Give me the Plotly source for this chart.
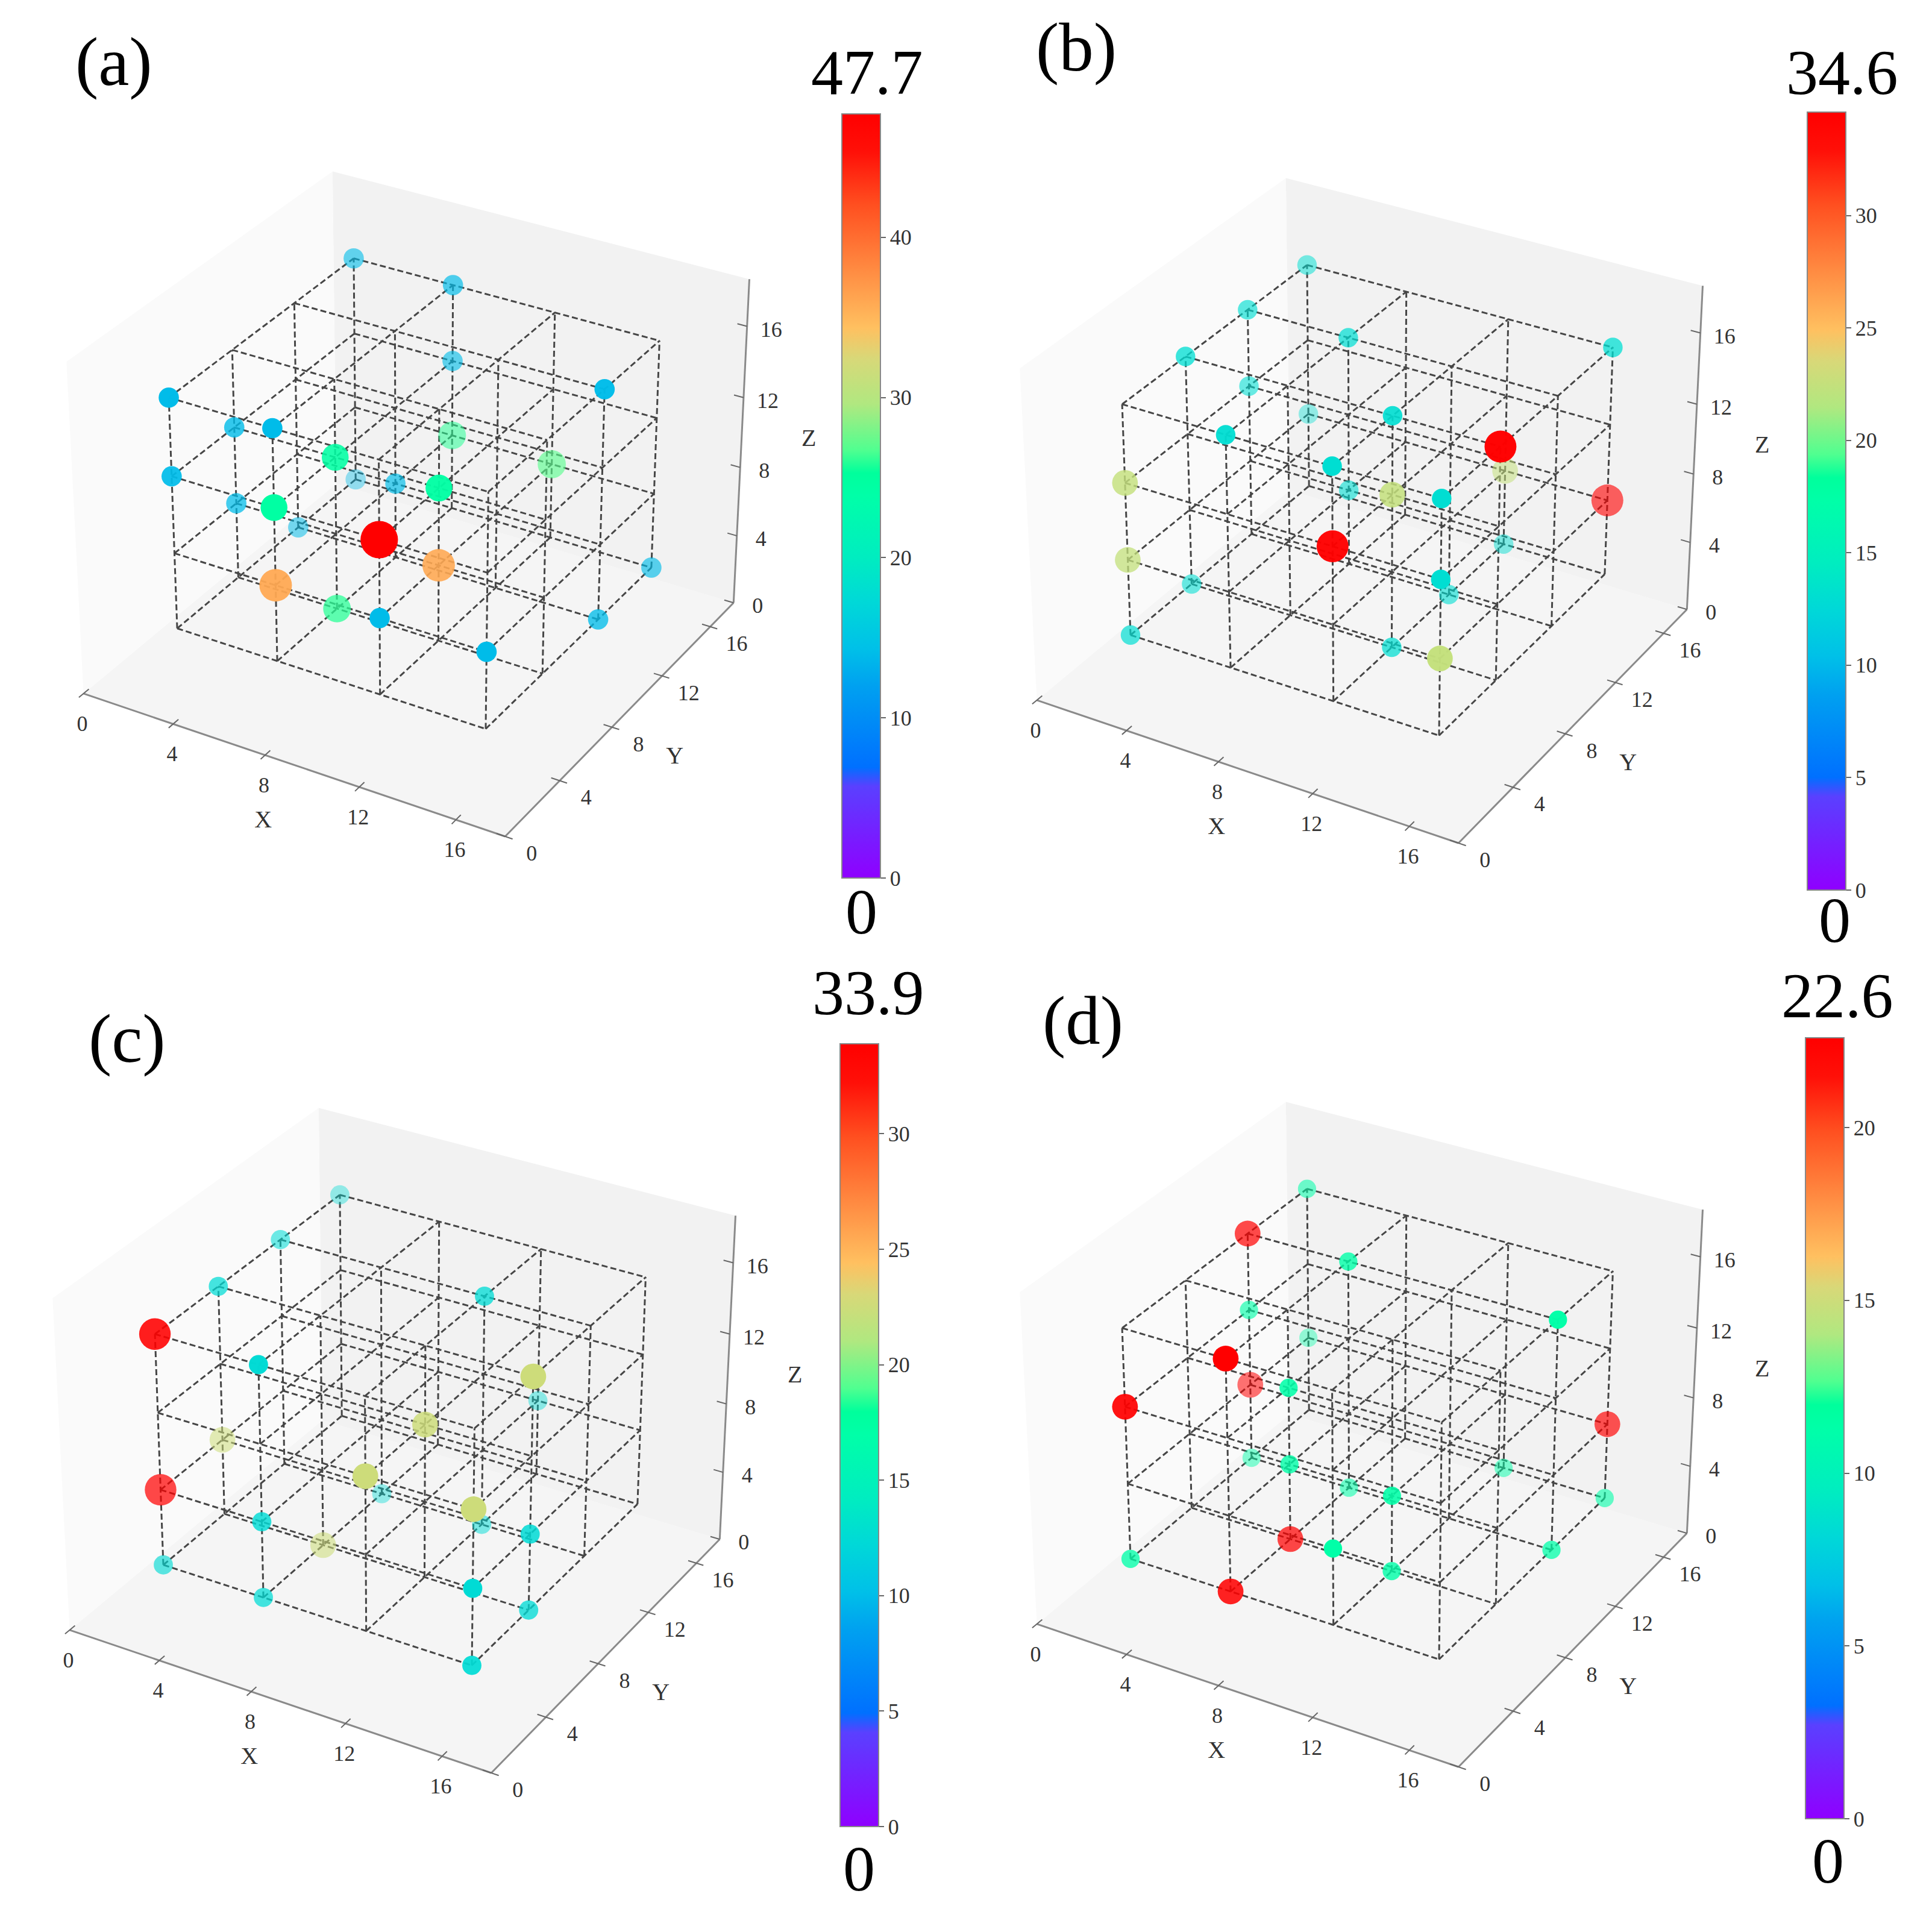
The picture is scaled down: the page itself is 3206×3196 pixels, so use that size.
import math
import plotly.graph_objects as go

# ── DATA ─────────────────────────────────────────────
lattice_x = [2.4, 6.8, 11.2, 15.6]
lattice_y = [2.8, 7.0, 11.3, 15.6]
lattice_z = [2.8, 7.13, 11.47, 15.8]
axis_ticks = [0, 4, 8, 12, 16]
axis_max = 18
z_axis_max = 18.6

# node indices into the lattice + value at the node
a_i = [0, 1, 1, 3, 0, 0, 1, 1, 1, 2, 0, 1, 2, 0, 0, 1, 0, 2, 2, 1, 1, 2, 3, 3, 3]
a_j = [3, 3, 3, 2, 0, 1, 0, 1, 3, 3, 3, 2, 1, 0, 1, 0, 2, 0, 1, 0, 1, 0, 0, 2, 3]
a_k = [3, 3, 2, 3, 3, 2, 3, 2, 1, 1, 0, 1, 2, 2, 1, 2, 0, 2, 1, 1, 0, 1, 1, 0, 0]
a_v = [14, 14, 14, 14, 14, 14, 14, 24.5, 26, 27, 14, 14, 24.5, 14, 14, 24.5, 14, 47.7, 36, 36, 26, 14, 14, 14, 14]

b_i = [0, 0, 1, 0, 3, 0, 0, 2, 1, 3, 2, 2, 1, 2, 3, 3, 0, 2, 2, 0, 3, 2, 0, 0, 2, 3]
b_j = [3, 2, 2, 1, 3, 2, 3, 1, 0, 1, 3, 0, 2, 1, 0, 3, 0, 3, 0, 0, 0, 2, 1, 0, 1, 0]
b_k = [3, 3, 3, 3, 3, 2, 1, 3, 3, 3, 1, 3, 1, 2, 3, 1, 2, 0, 2, 1, 2, 0, 0, 0, 0, 1]
b_v = [13, 13, 13, 13, 13, 13, 13, 13, 13, 34.6, 22.5, 13, 13, 22.5, 13, 34.6, 22.5, 13, 34.6, 22.5, 13, 13, 13, 13, 13, 22.5]

c_i = [0, 0, 0, 2, 0, 1, 3, 2, 2, 0, 2, 1, 0, 3, 2, 1, 3, 1, 0, 3, 1, 3, 3]
c_j = [3, 2, 1, 2, 0, 0, 1, 3, 1, 1, 0, 2, 0, 0, 2, 0, 1, 1, 0, 0, 0, 1, 0]
c_k = [3, 3, 3, 3, 3, 3, 3, 1, 2, 1, 2, 0, 1, 2, 0, 1, 1, 0, 0, 1, 0, 0, 0]
c_v = [12.5, 12.5, 12.5, 12.5, 33.9, 12.5, 22.5, 12.5, 22.5, 22.5, 22.5, 12.5, 33.9, 22.5, 12.5, 12.5, 12.5, 22.5, 12.5, 12.5, 12.5, 12.5, 12.5]

d_i = [0, 0, 1, 0, 3, 0, 1, 0, 1, 0, 3, 0, 1, 2, 1, 2, 3, 1, 2, 3, 0, 2, 1]
d_j = [3, 2, 2, 2, 2, 3, 0, 2, 1, 0, 3, 2, 1, 3, 2, 1, 3, 1, 0, 2, 0, 1, 0]
d_k = [3, 3, 3, 2, 3, 1, 3, 1, 2, 2, 1, 0, 1, 0, 0, 1, 0, 0, 1, 0, 0, 0, 0]
d_v = [11.3, 22.6, 11.3, 11.3, 11.3, 11.3, 22.6, 22.6, 11.3, 22.6, 22.6, 11.3, 11.3, 11.3, 11.3, 11.3, 11.3, 22.6, 11.3, 11.3, 11.3, 11.3, 22.6]

a_ticks = [0, 10, 20, 30, 40]
b_ticks = [0, 5, 10, 15, 20, 25, 30]
c_ticks = [0, 5, 10, 15, 20, 25, 30]
d_ticks = [0, 5, 10, 15, 20]

rainbow = [
    [0.00, "#8f00ff"], [0.12, "#5a40ff"], [0.145, "#0070ff"], [0.25, "#00a0f0"],
    [0.30, "#00c0e8"], [0.36, "#00d8d8"], [0.42, "#00edc0"], [0.50, "#00ffa8"],
    [0.53, "#00ff9c"], [0.56, "#50ff90"], [0.62, "#b0e880"], [0.68, "#d8d878"],
    [0.72, "#ffc060"], [0.80, "#ff8840"], [0.88, "#ff5020"], [0.95, "#ff1008"],
    [1.00, "#ff0000"],
]

# ── LAYOUT CONFIG (pixels of the page) ───────────────
W, H = 3206, 3196
SERIF = "Liberation Serif"
SCALE = 807      # px per box side
DIST = 8.0       # camera distance in box sides (perspective)
ZASPECT = 0.78
SIZE_K = 9.0     # marker diameter = k * sqrt(value)

panels = [
    dict(name="(a)", i=a_i, j=a_j, k=a_k, v=a_v, vmax=47.7, ticks=a_ticks, cx=680, cy=801,
         bar=(1389, 181, 1449), label=(181, 95), top=(1431, 112), low=(1421, 1505)),
    dict(name="(b)", i=b_i, j=b_j, k=b_k, v=b_v, vmax=34.6, ticks=b_ticks, cx=2262, cy=812,
         bar=(2991, 178, 1469), label=(1778, 70), top=(3049, 113), low=(3036, 1519)),
    dict(name="(c)", i=c_i, j=c_j, k=c_k, v=c_v, vmax=33.9, ticks=c_ticks, cx=657, cy=2355,
         bar=(1386, 1724, 3023), label=(203, 1716), top=(1433, 1639), low=(1417, 3093)),
    dict(name="(d)", i=d_i, j=d_j, k=d_k, v=d_v, vmax=22.6, ticks=d_ticks, cx=2262, cy=2345,
         bar=(2988, 1714, 3010), label=(1789, 1685), top=(3041, 1644), low=(3025, 3080)),
]

az = math.radians(-59.5)
el = math.radians(30.3)
view = (math.cos(el) * math.cos(az), math.cos(el) * math.sin(az), math.sin(el))
right = (-math.sin(az), math.cos(az), 0)
up = (-math.sin(el) * math.cos(az), -math.sin(el) * math.sin(az), math.cos(el))


def dot(a, b):
    return a[0] * b[0] + a[1] * b[1] + a[2] * b[2]


def box(x, y, z):
    return (x / axis_max - 0.5, y / axis_max - 0.5, (z / z_axis_max - 0.5) * ZASPECT)


def project(x, y, z, cx, cy):
    """3d data point to page pixels, same maths as mplot3d's perspective camera"""
    p = box(x, y, z)
    f = DIST / (DIST - dot(p, view))
    return cx + dot(p, right) * f * SCALE, cy - dot(p, up) * f * SCALE


def path(points, cx, cy):
    xs, ys = [], []
    for pt in points:
        if pt is None:
            xs.append(None)
            ys.append(None)
        else:
            px, py = project(pt[0], pt[1], pt[2], cx, cy)
            xs.append(px)
            ys.append(py)
    return xs, ys


def lattice_lines():
    x0, x1 = lattice_x[0], lattice_x[-1]
    y0, y1 = lattice_y[0], lattice_y[-1]
    z0, z1 = lattice_z[0], lattice_z[-1]
    pts = []
    for b in lattice_y:
        for c in lattice_z:
            pts += [(x0, b, c), (x1, b, c), None]
    for a in lattice_x:
        for c in lattice_z:
            pts += [(a, y0, c), (a, y1, c), None]
    for a in lattice_x:
        for b in lattice_y:
            pts += [(a, b, z0), (a, b, z1), None]
    return pts


fig = go.Figure()


def add_text(xs, ys, texts, size):
    fig.add_trace(go.Scatter(
        x=xs, y=ys, text=texts, mode="text", textposition="middle center", hoverinfo="skip",
        textfont=dict(family=SERIF, size=size, color="#333333"), showlegend=False,
    ))


for p in panels:
    cx, cy = p["cx"], p["cy"]
    m, zm = axis_max, z_axis_max

    # panes
    panes = [
        ([(0, 0, 0), (m, 0, 0), (m, m, 0), (0, m, 0), (0, 0, 0)], "#f5f5f5"),
        ([(0, m, 0), (m, m, 0), (m, m, zm), (0, m, zm), (0, m, 0)], "#f2f2f2"),
        ([(0, 0, 0), (0, m, 0), (0, m, zm), (0, 0, zm), (0, 0, 0)], "#fafafa"),
    ]
    for pts, col in panes:
        xs, ys = path(pts, cx, cy)
        fig.add_trace(go.Scatter(x=xs, y=ys, mode="lines", fill="toself", fillcolor=col,
                                 line=dict(width=0), hoverinfo="skip", showlegend=False))

    # axes lines + ticks
    axis_pts = [(0, 0, 0), (m, 0, 0), None, (m, 0, 0), (m, m, 0), None, (m, m, 0), (m, m, zm)]
    xs, ys = path(axis_pts, cx, cy)
    fig.add_trace(go.Scatter(x=xs, y=ys, mode="lines", line=dict(color="#8a8a8a", width=3),
                             hoverinfo="skip", showlegend=False))
    tick_pts = []
    for t in axis_ticks:
        tick_pts += [(t, -0.3, 0), (t, 0.35, 0), None]
        tick_pts += [(m - 0.35, t, 0), (m + 0.3, t, 0), None]
        tick_pts += [(m - 0.4, m, t), (m, m, t), None]
    xs, ys = path(tick_pts, cx, cy)
    fig.add_trace(go.Scatter(x=xs, y=ys, mode="lines", line=dict(color="#666666", width=2),
                             hoverinfo="skip", showlegend=False))

    # tick labels and axis titles sit a fixed offset off the axes
    labels = [str(t) for t in axis_ticks]
    xs, ys = path([(t, 0, 0) for t in axis_ticks], cx, cy)
    add_text([v - 2 for v in xs], [v + 53 for v in ys], labels, 36)
    xs, ys = path([(m, t, 0) for t in axis_ticks], cx, cy)
    add_text([v + 44 for v in xs], [v + 31 for v in ys], labels, 36)
    xs, ys = path([(m, m, t) for t in axis_ticks], cx, cy)
    add_text([v + 40 for v in xs], [v + 8 for v in ys], labels, 36)

    xs, ys = path([(m / 2, 0, 0), (m, m / 2, 0), (m, m, zm / 2)], cx, cy)
    add_text([xs[0] - 42, xs[1] + 83, xs[2] + 112], [ys[0] + 97, ys[1] + 72, ys[2] - 8], ["X", "Y", "Z"], 40)

    # cube lattice
    xs, ys = path(lattice_lines(), cx, cy)
    fig.add_trace(go.Scatter(x=xs, y=ys, mode="lines", hoverinfo="skip", showlegend=False,
                             line=dict(color="#464646", width=3, dash="10px,5px")))

    # nodes, far ones first and faded like mplot3d's depthshade
    nodes = [(lattice_x[a], lattice_y[b], lattice_z[c], v) for a, b, c, v in zip(p["i"], p["j"], p["k"], p["v"])]
    depth = [dot(box(n[0], n[1], n[2]), view) for n in nodes]
    lo, hi = min(depth), max(depth)
    order = sorted(range(len(nodes)), key=lambda q: depth[q])
    xy = [project(nodes[q][0], nodes[q][1], nodes[q][2], cx, cy) for q in order]
    fig.add_trace(go.Scatter(
        x=[c[0] for c in xy], y=[c[1] for c in xy], mode="markers", showlegend=False,
        marker=dict(
            color=[nodes[q][3] for q in order], colorscale=rainbow, cmin=0, cmax=p["vmax"],
            size=[SIZE_K * math.sqrt(nodes[q][3]) for q in order], sizemode="diameter",
            opacity=[min(1.0, 0.4 + 0.7 * (depth[q] - lo) / (hi - lo)) for q in order],
            line=dict(width=0), showscale=True,
            colorbar=dict(
                x=p["bar"][0] / W, xanchor="left", xpad=0, ypad=0,
                y=1 - p["bar"][2] / H, yanchor="bottom",
                len=(p["bar"][2] - p["bar"][1]) / H, lenmode="fraction",
                thickness=64, thicknessmode="pixels",
                tickvals=p["ticks"], ticks="outside", ticklen=8, tickwidth=2, tickcolor="#666666",
                tickfont=dict(family=SERIF, size=36, color="#333333"),
                outlinecolor="#888888", outlinewidth=2,
            ),
        ),
    ))

    for text, pos, size in [(p["name"], p["label"], 115), (str(p["vmax"]), p["top"], 106), ("0", p["low"], 106)]:
        fig.add_annotation(
            x=pos[0] / W, y=1 - pos[1] / H, xref="paper", yref="paper", text=text, showarrow=False,
            xanchor="center", yanchor="middle", font=dict(family=SERIF, size=size, color="#000000"),
        )

fig.update_layout(
    width=W, height=H, margin=dict(l=0, r=0, t=0, b=0),
    paper_bgcolor="white", plot_bgcolor="white", showlegend=False,
    xaxis=dict(range=[0, W], visible=False, domain=[0, 1]),
    yaxis=dict(range=[H, 0], visible=False, domain=[0, 1]),
)
fig.write_html("out.html")
